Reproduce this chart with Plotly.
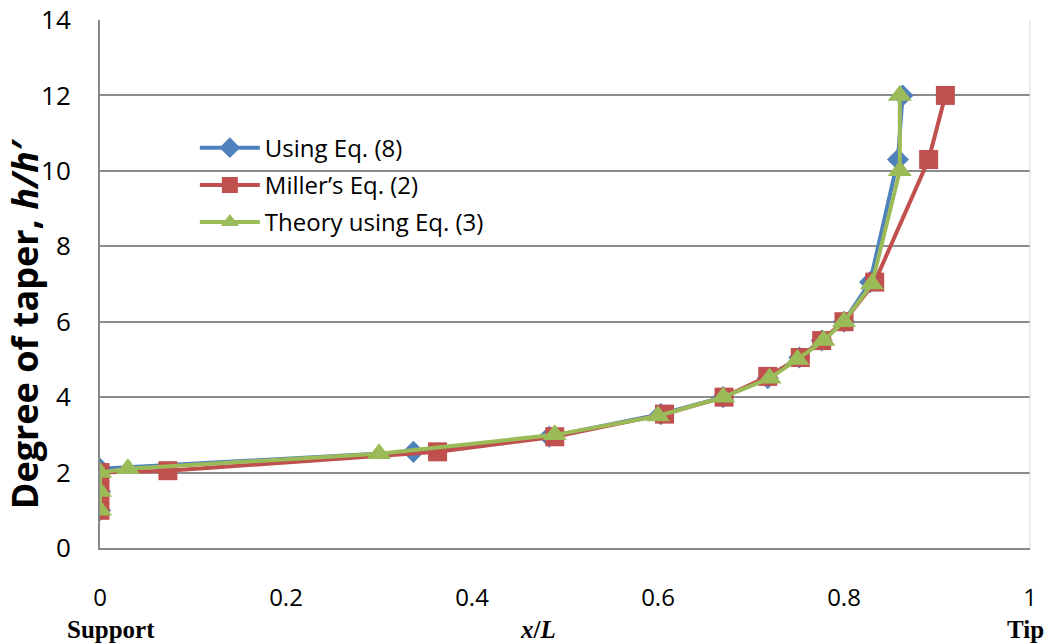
import plotly.graph_objects as go

# Using Eq. (8)
x_eq8 = [0, 0, 0, 0.337, 0.483, 0.603, 0.670, 0.718, 0.752, 0.776, 0.800, 0.828, 0.858, 0.863]
y_eq8 = [1.0, 1.5, 2.1, 2.55, 2.95, 3.55, 4.0, 4.5, 5.05, 5.5, 6.0, 7.05, 10.3, 12.0]

# Miller's Eq. (2)
x_miller = [0, 0, 0, 0.073, 0.363, 0.489, 0.607, 0.671, 0.718, 0.753, 0.776, 0.800, 0.833, 0.891, 0.909]
y_miller = [1.0, 1.5, 2.0, 2.05, 2.55, 2.95, 3.55, 4.0, 4.55, 5.05, 5.5, 6.0, 7.05, 10.3, 12.0]

# Theory using Eq. (3)
x_theory = [0, 0, 0, 0.030, 0.300, 0.489, 0.600, 0.670, 0.720, 0.750, 0.778, 0.800, 0.830, 0.860, 0.860]
y_theory = [1.0, 1.5, 2.0, 2.1, 2.5, 3.0, 3.5, 4.0, 4.5, 5.0, 5.5, 6.0, 7.0, 10.0, 12.0]

x_ticks = [0, 0.2, 0.4, 0.6, 0.8, 1]
x_ticktext = ["0", "0.2", "0.4", "0.6", "0.8", "1"]
y_ticks = [0, 2, 4, 6, 8, 10, 12, 14]

fig = go.Figure()
fig.add_trace(go.Scatter(x=x_eq8, y=y_eq8, mode="lines+markers", name="Using Eq. (8)",
                         legendgroup="a",
                         line=dict(color="#4F81BD", width=4),
                         marker=dict(symbol="diamond", size=17, color="#4F81BD")))
fig.add_trace(go.Scatter(x=x_miller, y=y_miller, mode="lines+markers", name="Miller’s Eq. (2)",
                         legendgroup="b",
                         line=dict(color="#C0504D", width=4),
                         marker=dict(symbol="square", size=19, color="#C0504D")))
fig.add_trace(go.Scatter(x=x_theory, y=y_theory, mode="lines+markers", name="Theory using Eq. (3)",
                         legendgroup="c",
                         line=dict(color="#9BBB59", width=4),
                         marker=dict(symbol="triangle-up", size=21, color="#9BBB59")))

fig.update_layout(
    width=1047, height=643,
    margin=dict(l=100, r=17, t=20, b=95, autoexpand=False),
    paper_bgcolor="white", plot_bgcolor="white",
    font=dict(family="Open Sans, Liberation Sans, sans-serif", size=26, color="black"),
    showlegend=True,
    legend=dict(x=0.102, y=0.8, xanchor="left", yanchor="top",
                bgcolor="rgba(0,0,0,0)", font=dict(size=24), itemwidth=60,
                tracegroupgap=3),
    xaxis=dict(range=[0, 1], tickvals=x_ticks, ticktext=x_ticktext, automargin=False,
               showgrid=False, zeroline=False, showline=True, linecolor="#888888", linewidth=2,
               ticks="", tickfont=dict(size=24), ticklabelstandoff=27),
    yaxis=dict(range=[0, 14], tickvals=y_ticks, showgrid=True, gridcolor="#8c8c8c", gridwidth=2,
               zeroline=False, showline=True, linecolor="#888888", linewidth=2, ticks="",
               automargin=False, tickfont=dict(size=26), ticklabelstandoff=22),
)

fig.add_shape(type="line", xref="paper", yref="paper", x0=1, x1=1, y0=0, y1=1,
              line=dict(color="#d9d9d9", width=1))

fig.add_annotation(text="<b>Degree of taper, <i>h/h′</i></b>", textangle=-90,
                   xref="paper", yref="paper", x=-0.081, y=0.425,
                   xanchor="center", yanchor="middle", showarrow=False,
                   font=dict(size=36, family="Open Sans, Liberation Sans, sans-serif", color="black"))

serif = dict(family="Liberation Serif, Times New Roman, serif", size=25, color="black")
fig.add_annotation(text="<b>Support</b>", x=0.012, y=-0.154, xref="x", yref="paper",
                   showarrow=False, font=serif, yanchor="middle")
fig.add_annotation(text="<b><i>x</i>/<i>L</i></b>", x=0.471, y=-0.154, xref="x", yref="paper",
                   showarrow=False, font=serif, yanchor="middle")
fig.add_annotation(text="<b>Tip</b>", x=0.995, y=-0.154, xref="x", yref="paper",
                   showarrow=False, font=serif, yanchor="middle")

fig.write_html("out.html")
